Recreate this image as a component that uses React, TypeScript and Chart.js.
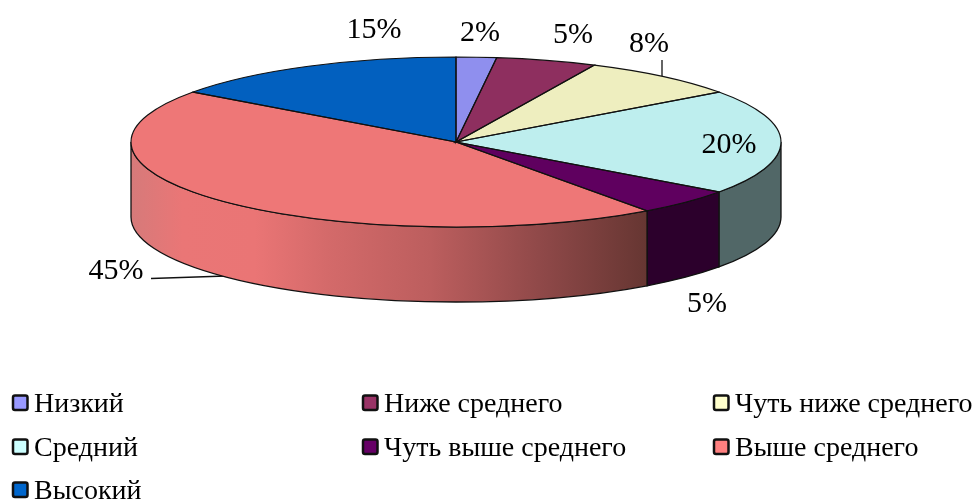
import React, { useEffect, useRef } from "react";
import { Chart, registerables } from "chart.js";

Chart.register(...registerables);

const categories = ["Низкий", "Ниже среднего", "Чуть ниже среднего", "Средний", "Чуть выше среднего", "Выше среднего", "Высокий"];
const shares = [2, 5, 8, 20, 5, 45, 15];
const topColors = ["#8F8FEE", "#8E2F5F", "#EEEEBF", "#BEEEEE", "#5F005F", "#EE7777", "#0260BF"];
const legendColors = ["#9999FF", "#993366", "#FFFFCC", "#CCFFFF", "#660066", "#FF8080", "#0066CC"];
const wallColors = ["#4A4A80", "#4A1A33", "#80806A", "#516767", "#2C002C", "#C06060", "#023060"];

const RX = 325;
const DEPTH = 75;
const FONT = "'Liberation Serif', 'Times New Roman', serif";
const labelSpots = [
  [480, 33], [573, 35], [649, 44], [729, 145], [707, 304], [116, 271], [374, 30],
];
const leaders = [
  [662, 60, 662, 76],
  [151, 278.5, 226, 276],
];
const legendCols = [12, 362, 713];
const legendRows = [405, 449, 492];

const pie3d = {
  id: "pie3d",
  beforeDatasetsDraw(chart: any) {
    const { ctx } = chart;
    const arcs = chart.getDatasetMeta(0).data;
    const cx = arcs[0].x, cy = arcs[0].y, ry = arcs[0].outerRadius;

    ctx.save();
    ctx.strokeStyle = "#111";
    ctx.lineWidth = 1.3;
    leaders.forEach(([a, b, c, d]) => {
      ctx.beginPath();
      ctx.moveTo(a, b);
      ctx.lineTo(c, d);
      ctx.stroke();
    });
    arcs.forEach((arc: any, i: number) => {
      const s = Math.max(arc.startAngle, 0);
      const e = Math.min(arc.endAngle, Math.PI);
      if (e <= s) return;
      ctx.beginPath();
      ctx.ellipse(cx, cy, RX, ry, 0, s, e);
      ctx.ellipse(cx, cy + DEPTH, RX, ry, 0, e, s, true);
      ctx.closePath();
      if (i === 5) {
        const x0 = cx - RX, x1 = cx + RX * Math.cos(s);
        const g = ctx.createLinearGradient(x0, 0, x1, 0);
        g.addColorStop(0, "#D67A7A");
        g.addColorStop(0.1, "#EA7676");
        g.addColorStop(0.24, "#EA7575");
        g.addColorStop(0.38, "#D46A6A");
        g.addColorStop(0.58, "#BC5E5E");
        g.addColorStop(0.8, "#8E4848");
        g.addColorStop(1, "#663632");
        ctx.fillStyle = g;
      } else {
        ctx.fillStyle = wallColors[i];
      }
      ctx.fill();
      ctx.stroke();
    });
    ctx.restore();

    ctx.save();
    ctx.translate(cx, cy);
    ctx.scale(RX / ry, 1);
    ctx.translate(-cx, -cy);
  },
  afterDatasetsDraw(chart: any) {
    const { ctx } = chart;
    ctx.restore();
    const arcs = chart.getDatasetMeta(0).data;
    const cx = arcs[0].x, cy = arcs[0].y, ry = arcs[0].outerRadius;

    ctx.save();
    ctx.strokeStyle = "#111";
    ctx.lineWidth = 1.2;
    arcs.forEach((arc: any) => {
      ctx.beginPath();
      ctx.moveTo(cx, cy);
      ctx.ellipse(cx, cy, RX, ry, 0, arc.startAngle, arc.endAngle);
      ctx.closePath();
      ctx.stroke();
    });

    ctx.fillStyle = "#000";
    ctx.textBaseline = "middle";
    ctx.textAlign = "center";
    ctx.font = `30px ${FONT}`;
    shares.forEach((v, i) => {
      ctx.fillText(`${v}%`, labelSpots[i][0], labelSpots[i][1]);
    });

    ctx.textAlign = "left";
    ctx.font = `28px ${FONT}`;
    categories.forEach((name, i) => {
      const x = legendCols[i % 3];
      const y = legendRows[Math.floor(i / 3)];
      ctx.beginPath();
      ctx.roundRect(x + 1, y - 9.5, 14.5, 14.5, 2);
      ctx.fillStyle = legendColors[i];
      ctx.fill();
      ctx.lineWidth = 2.5;
      ctx.strokeStyle = "#111";
      ctx.stroke();
      ctx.fillStyle = "#000";
      ctx.fillText(name, x + 22, y);
    });
    ctx.restore();
  },
};

export default function App() {
  const ref = useRef<HTMLCanvasElement | null>(null);
  useEffect(() => {
    const chart = new Chart(ref.current as HTMLCanvasElement, {
      type: "pie",
      data: {
        labels: categories,
        datasets: [{ data: shares, backgroundColor: topColors, borderWidth: 0 }],
      },
      options: {
        responsive: false,
        animation: false,
        layout: { padding: { top: 57, bottom: 274, left: 0, right: 64 } },
        plugins: { legend: { display: false }, tooltip: { enabled: false } },
      },
      plugins: [pie3d],
    } as any);
    return () => chart.destroy();
  }, []);
  return (
    <canvas
      ref={ref}
      width={976}
      height={501}
      style={{ position: "fixed", left: 0, top: 0, display: "block", background: "#fff" }}
    />
  );
}
